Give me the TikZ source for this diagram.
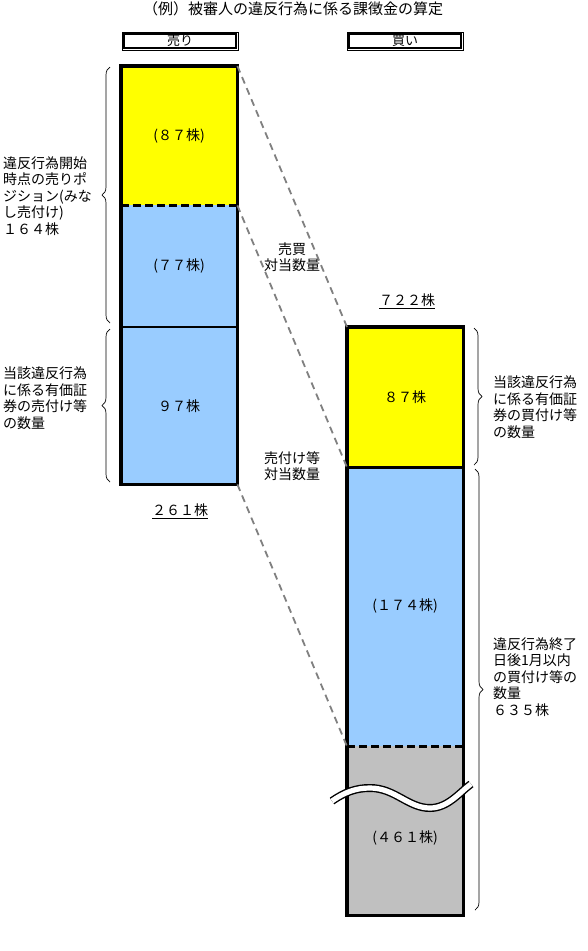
\documentclass[tikz,border=0pt]{standalone}
\usepackage{fontspec}
\setmainfont{Noto Sans CJK JP}
\usetikzlibrary{decorations.pathreplacing}
\definecolor{cyel}{HTML}{FFFF00}
\definecolor{cblue}{HTML}{99CCFF}
\definecolor{cgray}{HTML}{C0C0C0}
\definecolor{cline}{HTML}{808080}
\begin{document}
\begin{tikzpicture}[x=1pt,y=-1pt,
  seg/.style={draw=none,inner sep=0pt,minimum width=116pt,anchor=north west},
  lbl/.style={font=\fontsize{14}{16.5}\selectfont,inner sep=0pt},
  side/.style={font=\fontsize{14}{16.5}\selectfont,align=left,inner sep=0pt,anchor=west},
  hdr/.style={draw,line width=0.8pt,minimum width=116pt,minimum height=18pt,inner sep=0pt,font=\fontsize{13}{14}\selectfont},
  hdrin/.style={line width=1.8pt},
  outline/.style={line width=3.2pt},
  divd/.style={line width=2.6pt,dash pattern=on 8pt off 4pt},
  conn/.style={cline,line width=1.8pt,dash pattern=on 7pt off 5pt},
  brc/.style={decorate,decoration={brace,amplitude=8pt},line width=0.7pt}]
\useasboundingbox (0,0) rectangle (587,951);
\fill[white] (0,0) rectangle (587,951);

% title
\node[font=\fontsize{15}{18}\selectfont,inner sep=0pt] (title) at (293,9) {（例）被審人の違反行為に係る課徴金の算定};
\node[hdr] (hs) at (180,41) {売り};
\draw[hdrin] ([shift={(2.2,2.2)}]hs.north west) rectangle ([shift={(-2.2,-2.2)}]hs.south east);
\node[hdr] (hb) at (405,41) {買い};
\draw[hdrin] ([shift={(2.2,2.2)}]hb.north west) rectangle ([shift={(-2.2,-2.2)}]hb.south east);

% left column segments
\node[seg,fill=cyel,minimum height=139pt] (LY) at (121,66) {};
\node[seg,fill=cblue,minimum height=122pt] (LB1) at (121,205) {};
\node[seg,fill=cblue,minimum height=157pt] (LB2) at (121,327) {};
\draw[divd] (LY.south west) -- (LY.south east);
\draw[line width=2.6pt] (LB2.north west) -- (LB2.north east);
\draw[outline] (LY.north west) rectangle (LB2.south east);
\node[lbl] (tLY) at (LY.center) {(８７株)};
\node[lbl] (tLB1) at (LB1.center) {(７７株)};
\node[lbl] (tLB2) at (LB2.center) {９７株};
\node[lbl] (tot1) at (180,511) {\underline{２６１株}};

% right column segments
\node[seg,fill=cyel,minimum height=140pt] (RY) at (347,327) {};
\node[seg,fill=cblue,minimum height=279pt] (RB) at (347,467) {};
\node[seg,fill=cgray,minimum height=169pt] (RG) at (347,746) {};
\draw[line width=2.6pt] (RY.south west) -- (RY.south east);
\draw[divd] (RB.south west) -- (RB.south east);
\draw[outline] (RY.north west) rectangle (RG.south east);
\node[lbl] (tRY) at (RY.center) {８７株};
\node[lbl] (tRB) at (405,606) {(１７４株)};
\node[lbl] (tRG) at (405,838) {(４６１株)};
\node[lbl] (tot2) at (407,301) {\underline{７２２株}};

% break wave
\draw[line width=8pt,black] (332,801) .. controls (345,792) and (356,788) .. (370,788) .. controls (395,788) and (408,808) .. (430,808) .. controls (448,808) and (460,792) .. (471,784);
\draw[line width=5.2pt,white] (332,801) .. controls (345,792) and (356,788) .. (370,788) .. controls (395,788) and (408,808) .. (430,808) .. controls (448,808) and (460,792) .. (471,784);

% connectors
\draw[conn] (LY.north east) -- (RY.north west);
\draw[conn] (LY.south east) -- (RY.south west);
\draw[conn] (LB2.south east) -- (RB.south west);

\node[lbl,align=center] (mid1) at (292,257) {売買\\対当数量};
\node[lbl,align=center] (mid2) at (292,466) {売付け等\\対当数量};

% braces
\coordinate (b1a) at (110,323);
\coordinate (b1b) at (110,67);
\draw[brc] (b1a) -- (b1b);
\coordinate (b2a) at (110,482);
\coordinate (b2b) at (110,329);
\draw[brc] (b2a) -- (b2b);
\coordinate (b3a) at (474,328);
\coordinate (b3b) at (474,465);
\draw[brc] (b3a) -- (b3b);
\coordinate (b4a) at (475,469);
\coordinate (b4b) at (475,910);
\draw[brc] (b4a) -- (b4b);

% side texts
\node[side] (s1) at (3,196) {違反行為開始\\時点の売りポ\\ジション(みな\\し売付け)\\１６４株};
\node[side] (s2) at (3,398) {当該違反行為\\に係る有価証\\券の売付け等\\の数量};
\node[side] (s3) at (493,407) {当該違反行為\\に係る有価証\\券の買付け等\\の数量};
\node[side] (s4) at (493,677) {違反行為終了\\日後1月以内\\の買付け等の\\数量\\６３５株};
\end{tikzpicture}
\end{document}
